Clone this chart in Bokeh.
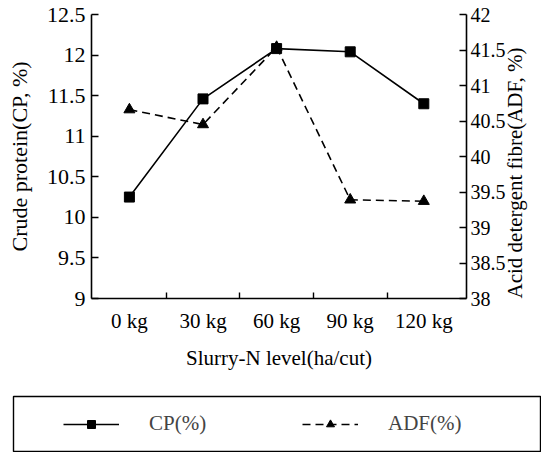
import math
from bokeh.plotting import figure
from bokeh.layouts import column
from bokeh.models import LinearAxis, Range1d, FixedTicker, Legend, LegendItem
from bokeh.embed import file_html
from bokeh.resources import INLINE

# ---- data ----
levels = ["0 kg", "30 kg", "60 kg", "90 kg", "120 kg"]
cp = [10.25, 11.46, 12.08, 12.04, 11.40]
adf = [40.66, 40.45, 41.54, 39.39, 39.37]
cp_ticks = [9, 9.5, 10, 10.5, 11, 11.5, 12, 12.5]
cp_tick_labels = ["9", "9.5", "10", "10.5", "11", "11.5", "12", "12.5"]
adf_ticks = [38, 38.5, 39, 39.5, 40, 40.5, 41, 41.5, 42]
adf_tick_labels = ["38", "38.5", "39", "39.5", "40", "40.5", "41", "41.5", "42"]

FONT = "Liberation Serif"

x = [i + 0.5 for i in range(len(levels))]
boundaries = [i for i in range(1, len(levels))]

p = figure(width=541, height=380, output_backend="svg", toolbar_location=None,
           x_range=Range1d(-0.015, 5.08), y_range=Range1d(9, 12.5),
           min_border_left=91, min_border_right=74, min_border_top=14,
           min_border_bottom=82, x_axis_location=None, y_axis_location=None)
p.outline_line_color = None
p.grid.visible = False
p.frame_align = False
p.extra_y_ranges = {"adf": Range1d(38, 42)}


def style(ax, tick_fs, label_fs):
    ax.axis_line_color = "black"
    ax.axis_line_width = 1.6
    ax.major_tick_line_color = "black"
    ax.major_tick_line_width = 1.4
    ax.minor_tick_line_color = "black"
    ax.minor_tick_line_width = 1.4
    ax.major_label_text_font = FONT
    ax.major_label_text_font_size = tick_fs
    ax.major_label_text_color = "black"
    ax.axis_label_text_font = FONT
    ax.axis_label_text_font_size = label_fs
    ax.axis_label_text_font_style = "normal"
    ax.axis_label_text_color = "black"


xaxis = LinearAxis(ticker=FixedTicker(ticks=x, minor_ticks=boundaries),
                   major_label_overrides={xi: lab for xi, lab in zip(x, levels)},
                   axis_label="Slurry-N level(ha/cut)")
style(xaxis, "21px", "21px")
xaxis.major_tick_in = 0
xaxis.major_tick_out = 0
xaxis.minor_tick_in = 6
xaxis.minor_tick_out = 0
xaxis.major_label_standoff = 10
xaxis.axis_label_standoff = 10
p.add_layout(xaxis, "below")

yl = LinearAxis(ticker=FixedTicker(ticks=cp_ticks, minor_ticks=[]),
                major_label_overrides=dict(zip(cp_ticks, cp_tick_labels)),
                axis_label="Crude protein(CP, %)")
style(yl, "22px", "22px")
yl.major_tick_in = 7
yl.major_tick_out = 0
yl.minor_tick_in = 0
yl.minor_tick_out = 0
yl.major_label_standoff = 6
yl.axis_label_standoff = 12
p.add_layout(yl, "left")

yr = LinearAxis(y_range_name="adf",
                ticker=FixedTicker(ticks=adf_ticks, minor_ticks=[]),
                major_label_overrides=dict(zip(adf_ticks, adf_tick_labels)),
                axis_label="Acid detergent fibre(ADF, %)")
style(yr, "20px", "21px")
yr.major_tick_in = 7
yr.major_tick_out = 0
yr.minor_tick_in = 0
yr.minor_tick_out = 0
yr.major_label_standoff = 4
yr.axis_label_standoff = 6
yr.axis_label_orientation = math.pi / 2
if "axis_label_align" in yr.properties():
    yr.axis_label_align = "start"
p.add_layout(yr, "right")

p.line(x, cp, line_color="black", line_width=1.6)
p.scatter(x, cp, marker="square", size=10, color="black")
p.line(x, adf, y_range_name="adf", line_color="black", line_width=1.6,
       line_dash="8 5")
p.scatter(x, adf, y_range_name="adf", marker="triangle", size=11,
          color="black")

# ---- legend panel below the chart ----
p2 = figure(width=541, height=72, output_backend="svg", toolbar_location=None,
            min_border_left=13, min_border_top=16, min_border_right=0,
            min_border_bottom=0, x_axis_location=None, y_axis_location=None)
p2.grid.visible = False
p2.frame_align = False
p2.outline_line_color = "black"
p2.outline_line_width = 1.4

l1 = p2.line(x, cp, line_color="black", line_width=1.6, visible=False)
s1 = p2.scatter(x, cp, marker="square", size=10, color="black", visible=False)
l2 = p2.line(x, adf, line_color="black", line_width=1.6, line_dash="8 5",
             visible=False)
s2 = p2.scatter(x, adf, marker="triangle", size=11, color="black",
                visible=False)

legend = Legend(items=[LegendItem(label="CP(%)", renderers=[l1, s1]),
                       LegendItem(label="ADF(%)", renderers=[l2, s2])],
                orientation="horizontal", location=(50, 16), padding=0,
                spacing=83, glyph_width=56, glyph_height=20, label_width=70,
                label_height=20, label_standoff=30, border_line_alpha=0,
                background_fill_alpha=0, label_text_font=FONT,
                label_text_font_size="21px")
p2.add_layout(legend)

layout = column(p, p2, spacing=0)
open("out.html", "w").write(file_html(layout, INLINE))
